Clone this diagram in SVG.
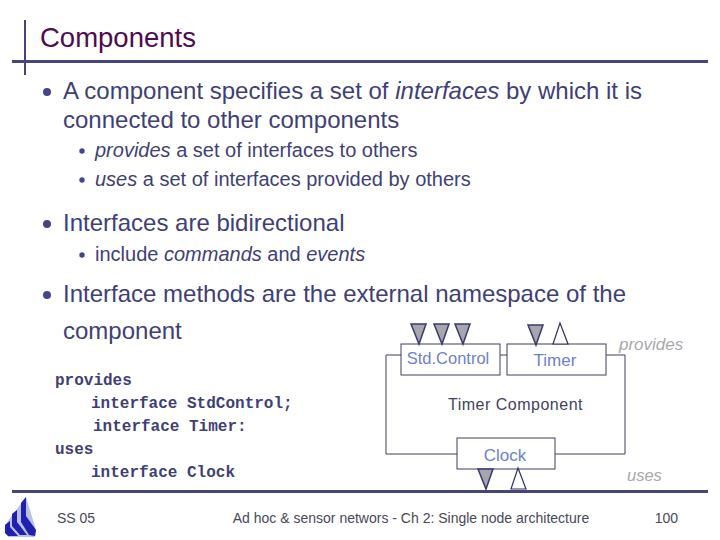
<svg xmlns="http://www.w3.org/2000/svg" width="720" height="540" viewBox="0 0 720 540">
<style>
text{font-family:"Liberation Sans",Arial,sans-serif;fill:#3f3f76;white-space:pre}
.t1{font-size:24px}
.t2{font-size:20px}
.code{font-family:"Liberation Mono","Courier New",monospace;font-size:16px;font-weight:bold}
.bar{fill:#45457a}
.box{fill:#fff;stroke:#3f3f60;stroke-width:1}
.wire{fill:none;stroke:#3f3f60;stroke-width:1}
.down{fill:#a6a6ae;stroke:#3a3a70;stroke-width:1.5}
.up{fill:#fff;stroke:#2f2f60;stroke-width:1.2}
.lab{font-size:16.5px;fill:#6f7fc8}
.grey{font-style:italic;fill:#a8a8ac}
.foot{font-size:14px;fill:#484858}
.dot{fill:#45458a}
.logo{fill:#2020b0}
</style>
<rect width="720" height="540" fill="#fff"/>
<g id="frame">
<rect class="bar" x="12" y="60" width="696" height="3"/>
<rect class="bar" x="24" y="20" width="2" height="55"/>
<rect class="bar" x="12" y="490" width="696" height="3"/>
</g>
<g id="title"><text x="40" y="47" font-size="27.5" style="fill:#500a50">Components</text></g>
<g id="bullets">
<circle class="dot" cx="47" cy="92" r="4"/>
<text class="t1" x="63" y="99">A component specifies a set of <tspan font-style="italic">interfaces</tspan> by which it is</text>
<text class="t1" x="63" y="128">connected to other components</text>
<circle class="dot" cx="82" cy="151" r="2.7"/>
<text class="t2" x="95" y="157"><tspan font-style="italic">provides</tspan> a set of interfaces to others</text>
<circle class="dot" cx="82" cy="180" r="2.7"/>
<text class="t2" x="95" y="186"><tspan font-style="italic">uses</tspan> a set of interfaces provided by others</text>
<circle class="dot" cx="47" cy="224" r="4"/>
<text class="t1" x="63" y="231">Interfaces are bidirectional</text>
<circle class="dot" cx="82" cy="255" r="2.7"/>
<text class="t2" x="95" y="261">include <tspan font-style="italic">commands</tspan> and <tspan font-style="italic">events</tspan></text>
<circle class="dot" cx="47" cy="295" r="4"/>
<text class="t1" x="63" y="302">Interface methods are the external namespace of the</text>
<text class="t1" x="63" y="339">component</text>
</g>
<g id="code">
<text class="code" x="55" y="385">provides</text>
<text class="code" x="91" y="408">interface StdControl;</text>
<text class="code" x="93" y="431">interface Timer:</text>
<text class="code" x="55" y="454">uses</text>
<text class="code" x="91" y="477">interface Clock</text>
</g>
<g id="connectors">
<polyline class="wire" points="401,355 386,355 386,454 457,454"/>
<polyline class="wire" points="500,355 507,355"/>
<polyline class="wire" points="606,355 625,355 625,454 555,454"/>
</g>
<g id="stdcontrol">
<rect class="box" x="401" y="344" width="99" height="31"/>
<polygon class="down" points="411,324 426,324 419,344"/>
<polygon class="down" points="434,324 449,324 442,344"/>
<polygon class="down" points="455,324 470,324 463,344"/>
<text class="lab" x="448" y="364" text-anchor="middle">Std.Control</text>
</g>
<g id="timer">
<rect class="box" x="507" y="344" width="99" height="31"/>
<polygon class="down" points="528,325 543,325 536,345"/>
<polygon class="up" points="553,344 568,344 560,323"/>
<text class="lab" x="555" y="366" text-anchor="middle" style="font-size:17px">Timer</text>
</g>
<g id="clock">
<rect class="box" x="457" y="438" width="98" height="31"/>
<polygon class="down" points="478,469 493,469 486,489"/>
<polygon class="up" points="511,489 526,489 518,468"/>
<text class="lab" x="505" y="461" text-anchor="middle" style="font-size:17px">Clock</text>
</g>
<g id="labels">
<text x="515.5" y="410" font-size="16" letter-spacing="0.5" text-anchor="middle" style="fill:#3f3f60">Timer Component</text>
<text class="grey" x="619" y="350" font-size="17">provides</text>
<text class="grey" x="627" y="481" font-size="16.5">uses</text>
</g>
<g id="logo">
<polygon points="5,525 26,497 36,530 35,537 8,537" fill="#b8c0e8"/>
<polygon class="logo" points="5,525 10,521 10,527 18,536 8,536 5,533"/>
<polygon class="logo" points="12,514 17,510 17,522 27,535 20,535 12,526"/>
<polygon class="logo" points="21,503 26,497 26,516 36,530 35,536 29,535 21,522"/>
</g>
<g id="footer">
<text class="foot" x="57" y="523">SS 05</text>
<text class="foot" x="411" y="523" text-anchor="middle">Ad hoc &amp; sensor networs - Ch 2: Single node architecture</text>
<text class="foot" x="678" y="523" text-anchor="end">100</text>
</g>
</svg>
